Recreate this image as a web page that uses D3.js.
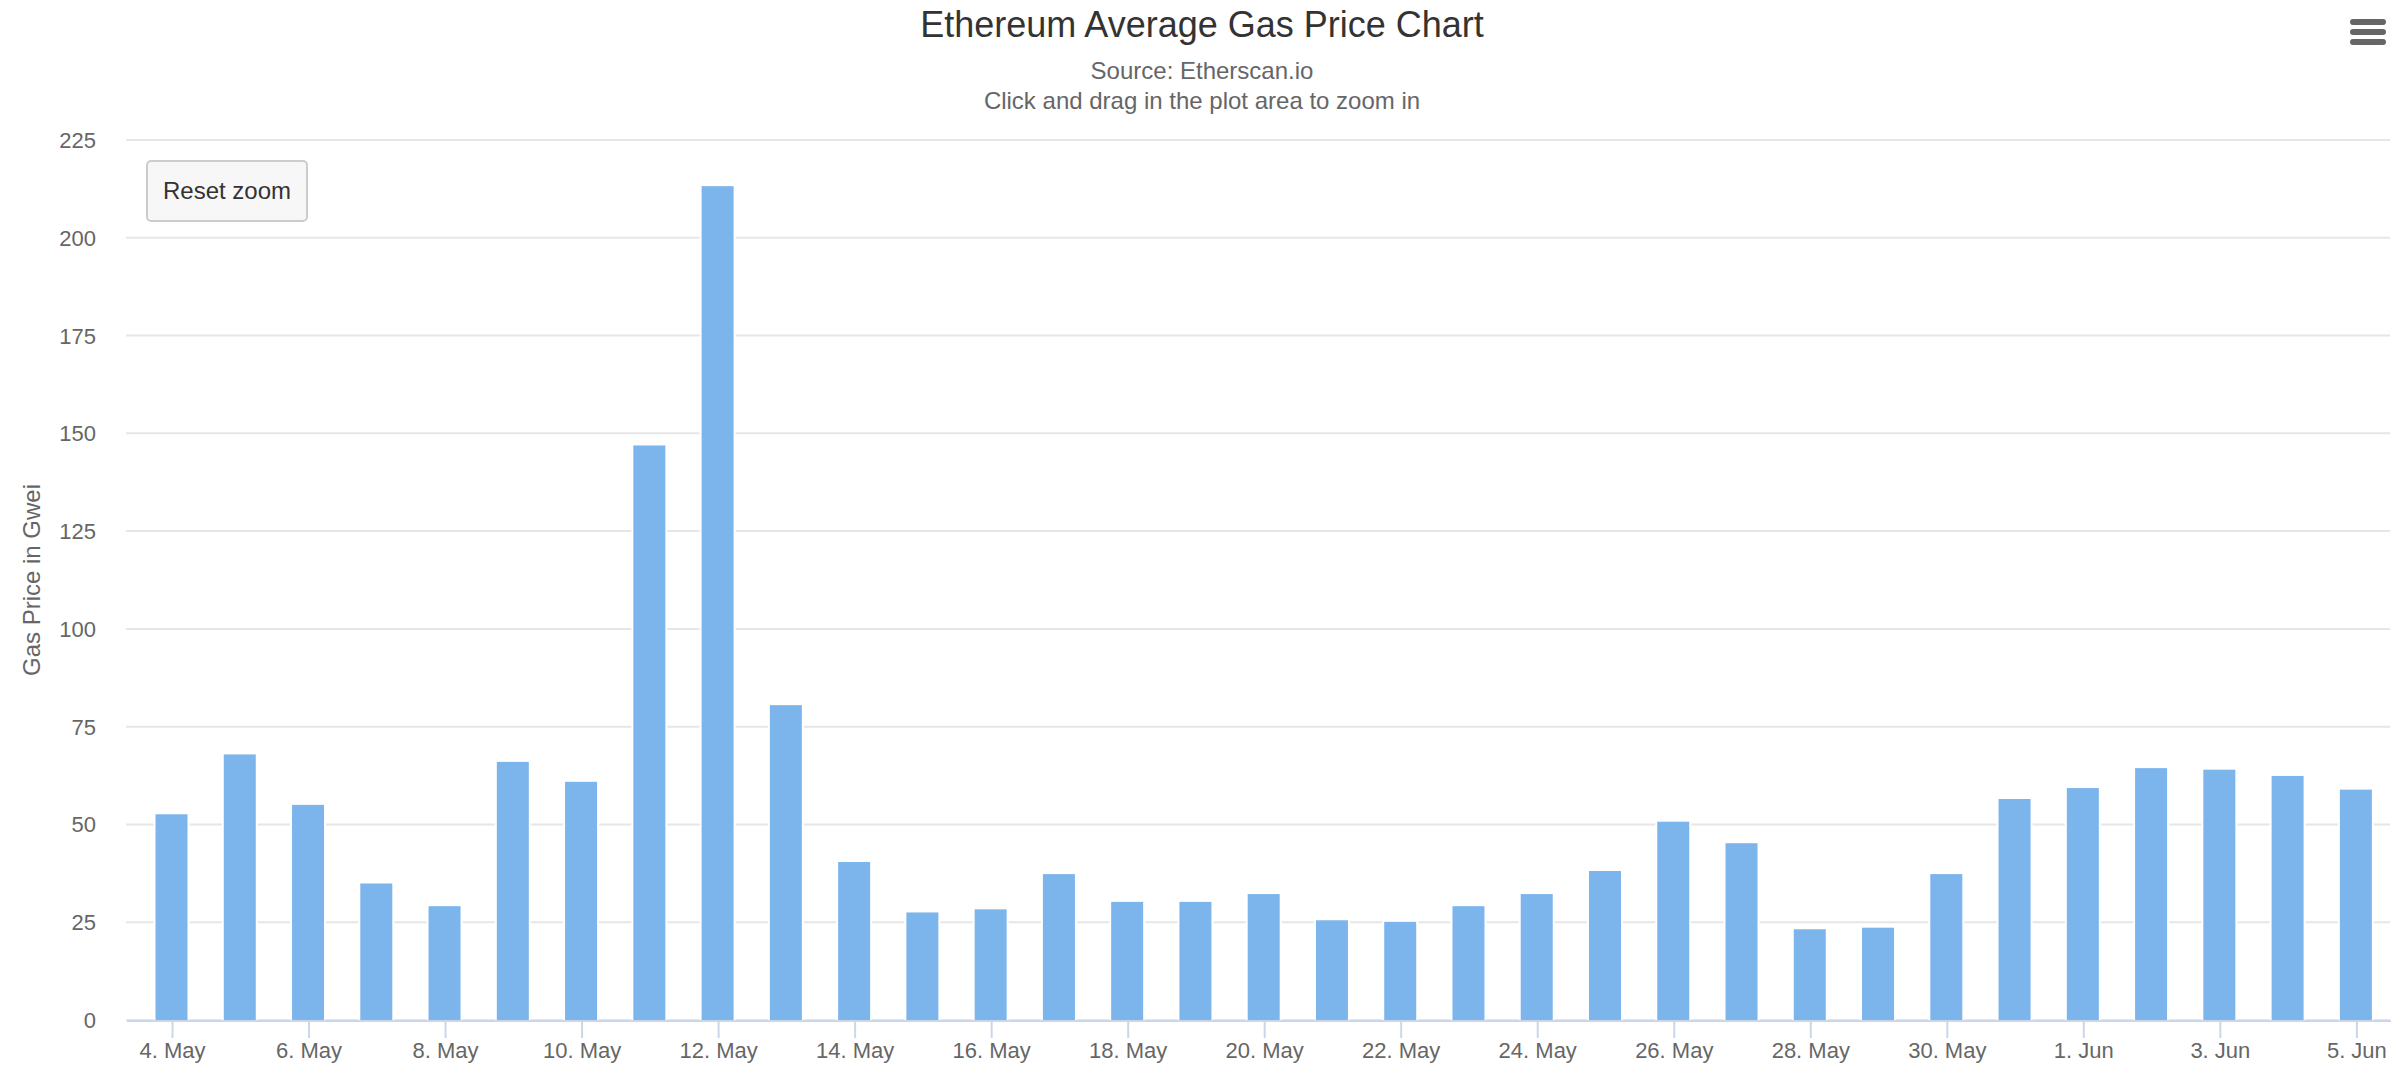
<!DOCTYPE html>
<html>
<head>
<meta charset="utf-8">
<title>Ethereum Average Gas Price Chart</title>
<script src="https://d3js.org/d3.v7.min.js"></script>
<style>
  body { margin: 0; background: #fff; }
  svg { display: block; font-family: "Liberation Sans", Arial, Helvetica, sans-serif; }
</style>
</head>
<body>
<svg id="chart" width="2408" height="1072" viewBox="0 0 1204 536"></svg>
<script>
// daily average gas price (Gwei)
const days = [
  "2018-05-04", "2018-05-05", "2018-05-06", "2018-05-07", "2018-05-08", "2018-05-09",
  "2018-05-10", "2018-05-11", "2018-05-12", "2018-05-13", "2018-05-14", "2018-05-15",
  "2018-05-16", "2018-05-17", "2018-05-18", "2018-05-19", "2018-05-20", "2018-05-21",
  "2018-05-22", "2018-05-23", "2018-05-24", "2018-05-25", "2018-05-26", "2018-05-27",
  "2018-05-28", "2018-05-29", "2018-05-30", "2018-05-31", "2018-06-01", "2018-06-02",
  "2018-06-03", "2018-06-04", "2018-06-05"
];
const gasPrice = [
  52.6, 67.9, 55.0, 34.9, 29.1, 66.0, 60.9, 146.9, 213.2, 80.5, 40.4, 27.5,
  28.3, 37.3, 30.2, 30.2, 32.2, 25.5, 25.1, 29.1, 32.2, 38.1, 50.7, 45.2,
  23.2, 23.6, 37.3, 56.5, 59.3, 64.4, 64.0, 62.4, 58.9
];
const yTicks = [0, 25, 50, 75, 100, 125, 150, 175, 200, 225];
const xTickDays = [
  "2018-05-04", "2018-05-06", "2018-05-08", "2018-05-10", "2018-05-12", "2018-05-14",
  "2018-05-16", "2018-05-18", "2018-05-20", "2018-05-22", "2018-05-24", "2018-05-26",
  "2018-05-28", "2018-05-30", "2018-06-01", "2018-06-03", "2018-06-05"
];

const svg = d3.select('#chart');
const plot = { left: 63, right: 1195, top: 70, bottom: 510 };
const parse = d3.utcParse('%Y-%m-%d');
const data = days.map((d, i) => ({ date: parse(d), value: gasPrice[i] }));

// chart is zoomed in, so the range does not start on a half day
const x = d3.scaleUtc()
  .domain([d3.utcHour.offset(data[0].date, -16), d3.utcHour.offset(data[data.length - 1].date, 12)])
  .range([plot.left, plot.right]);
const y = d3.scaleLinear()
  .domain([0, 225])
  .range([plot.bottom, plot.top]);

// grid lines
svg.append('g')
  .selectAll('line')
  .data(yTicks)
  .join('line')
  .attr('x1', plot.left)
  .attr('x2', plot.right)
  .attr('y1', d => y(d))
  .attr('y2', d => y(d))
  .attr('stroke', '#e6e6e6');

// y axis labels
const yAxis = d3.axisLeft(y).tickValues(yTicks).tickSize(0).tickPadding(15);
svg.append('g')
  .attr('transform', `translate(${plot.left},0)`)
  .call(yAxis)
  .call(g => g.select('.domain').remove())
  .call(g => g.selectAll('text')
    .attr('fill', '#666')
    .attr('font-size', 11)
    .attr('font-family', null));

// bars, with a thin white border like the original
svg.append('g')
  .selectAll('rect')
  .data(data)
  .join('rect')
  .attr('x', d => x(d.date) - 8)
  .attr('width', 16)
  .attr('y', d => y(d.value))
  .attr('height', d => y(0) - y(d.value))
  .attr('fill', '#7cb5ec')
  .attr('stroke', '#fff')
  .attr('stroke-width', 2)
  .attr('paint-order', 'stroke');

// x axis
const xAxis = d3.axisBottom(x)
  .tickValues(xTickDays.map(parse))
  .tickFormat(d3.utcFormat('%-d. %b'))
  .tickSize(9)
  .tickSizeOuter(0)
  .tickPadding(2);
svg.append('g')
  .attr('transform', `translate(0,${plot.bottom})`)
  .call(xAxis)
  .call(g => g.select('.domain').attr('stroke', '#ccd6eb'))
  .call(g => g.selectAll('.tick line').attr('stroke', '#ccd6eb'))
  .call(g => g.selectAll('text')
    .attr('fill', '#666')
    .attr('font-size', 11)
    .attr('font-family', null));

// y axis title
svg.append('text')
  .attr('transform', `translate(20,${(plot.top + plot.bottom) / 2}) rotate(-90)`)
  .attr('text-anchor', 'middle')
  .attr('fill', '#666')
  .attr('font-size', 12)
  .text('Gas Price in Gwei');

// titles
svg.append('text')
  .attr('x', 601).attr('y', 18.5)
  .attr('text-anchor', 'middle')
  .attr('fill', '#333')
  .attr('font-size', 18)
  .text('Ethereum Average Gas Price Chart');
svg.append('text')
  .attr('x', 601).attr('y', 39.5)
  .attr('text-anchor', 'middle')
  .attr('fill', '#666')
  .attr('font-size', 12)
  .text('Source: Etherscan.io');
svg.append('text')
  .attr('x', 601).attr('y', 54.5)
  .attr('text-anchor', 'middle')
  .attr('fill', '#666')
  .attr('font-size', 12)
  .text('Click and drag in the plot area to zoom in');

// reset zoom button
const btn = svg.append('g').attr('transform', 'translate(73,80)');
btn.append('rect')
  .attr('x', 0.5).attr('y', 0.5)
  .attr('width', 80).attr('height', 30)
  .attr('rx', 2)
  .attr('fill', '#f7f7f7')
  .attr('stroke', '#cccccc');
btn.append('text')
  .attr('x', 40.5).attr('y', 19.5)
  .attr('text-anchor', 'middle')
  .attr('fill', '#333')
  .attr('font-size', 12)
  .text('Reset zoom');

// context menu icon
svg.append('g')
  .selectAll('line')
  .data([11, 16, 21])
  .join('line')
  .attr('x1', 1176.5).attr('x2', 1191.5)
  .attr('y1', d => d).attr('y2', d => d)
  .attr('stroke', '#666')
  .attr('stroke-width', 3)
  .attr('stroke-linecap', 'round');
</script>
</body>
</html>
